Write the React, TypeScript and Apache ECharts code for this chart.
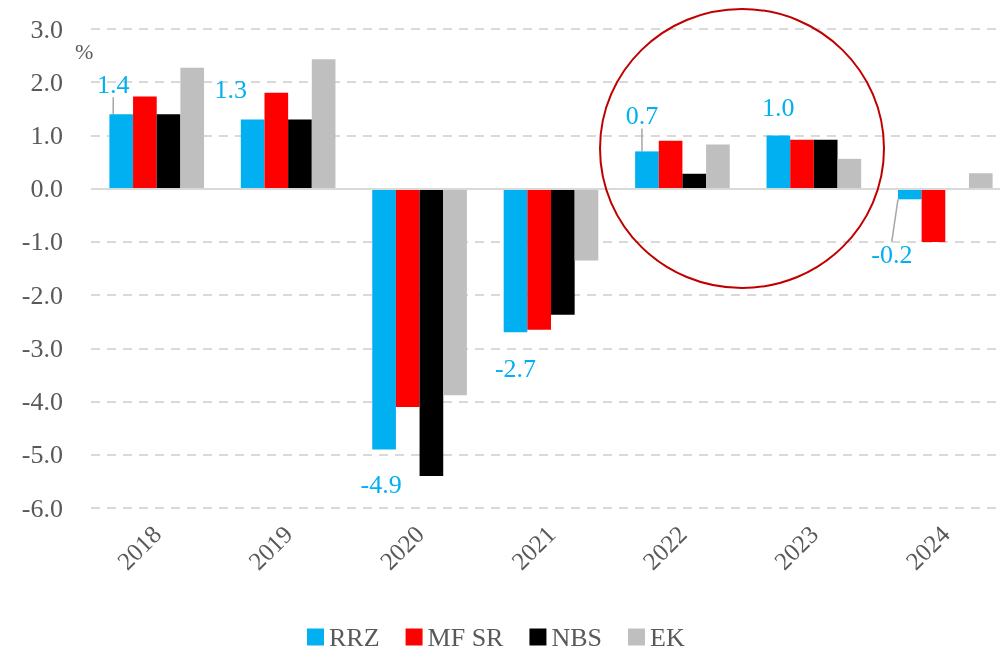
import React, { useEffect, useRef } from "react";
import * as echarts from "echarts";

const categories = ["2018", "2019", "2020", "2021", "2022", "2023", "2024"];
const seriesNames = ["RRZ", "MF SR", "NBS", "EK"];
const rrz = [1.4, 1.3, -4.9, -2.7, 0.7, 1.0, -0.2];
const mfsr = [1.73, 1.8, -4.1, -2.65, 0.9, 0.92, -1.0];
const nbs = [1.4, 1.3, -5.4, -2.37, 0.28, 0.92, null];
const ek = [2.27, 2.43, -3.88, -1.35, 0.83, 0.56, 0.29];
const yTicks = { min: -6, max: 3, interval: 1 };

const colors = ["#00B0F0", "#FF0000", "#000000", "#BFBFBF"];
const FONT = "'Liberation Serif', serif";
const GREY_TEXT = "#595959";

// label moves relative to default position; leader marks which get a guide line
const labelMoves: [number, number][] = [
  [-8, -12],
  [-22, -12],
  [-3, 17],
  [0, 18],
  [-5, -18],
  [0, -10],
  [-18, 37],
];
const leader = [true, false, false, false, true, false, true];

export default function App() {
  const ref = useRef<HTMLDivElement>(null);
  useEffect(() => {
    if (!ref.current) return;
    const chart = echarts.init(ref.current, null, { renderer: "svg" });
    const all = [rrz, mfsr, nbs, ek];
    const series = all.map((vals, si) => ({
      name: seriesNames[si],
      type: "bar",
      barGap: "0%",
      barCategoryGap: "28%",
      itemStyle: { color: colors[si] },
      data: vals.map((v, i) => {
        if (si !== 0) return v;
        return {
          value: v,
          label: {
            show: true,
            position: (v as number) >= 0 ? "top" : "bottom",
          },
          labelLine: { show: leader[i] },
        };
      }),
      label: {
        show: si === 0,
        color: "#00B0F0",
        fontFamily: FONT,
        fontSize: 26,
        formatter: (p: any) => Number(p.value).toFixed(1),
      },
      labelLine:
        si === 0
          ? { show: false, lineStyle: { color: "#A6A6A6", width: 1.5 } }
          : undefined,
      labelLayout:
        si === 0
          ? (p: any) => {
              const m = labelMoves[p.dataIndex];
              return m ? { dx: m[0], dy: m[1] } : {};
            }
          : undefined,
      markLine:
        si === 0
          ? {
              silent: true,
              symbol: "none",
              label: { show: false },
              lineStyle: { color: "#D9D9D9", width: 2, type: "solid" },
              data: [{ yAxis: 0 }],
            }
          : undefined,
      z: 2,
    }));

    chart.setOption({
      animation: false,
      textStyle: { fontFamily: FONT },
      grid: {
        left: 91,
        top: 29,
        width: 920,
        height: 479,
        outerBoundsMode: "none",
      },
      legend: {
        data: seriesNames,
        left: 302,
        top: 619,
        icon: "rect",
        itemWidth: 17,
        itemHeight: 17,
        itemGap: 26,
        textStyle: { color: GREY_TEXT, fontSize: 26, fontFamily: FONT },
      },
      xAxis: {
        type: "category",
        data: categories,
        axisLine: { show: false },
        axisTick: { show: false },
        axisLabel: {
          rotate: 45,
          margin: 22,
          color: GREY_TEXT,
          fontSize: 25,
          fontFamily: FONT,
        },
      },
      yAxis: {
        type: "value",
        min: yTicks.min,
        max: yTicks.max,
        interval: yTicks.interval,
        axisLine: { show: false },
        axisTick: { show: false },
        axisLabel: {
          margin: 28,
          color: GREY_TEXT,
          fontSize: 26,
          fontFamily: FONT,
          formatter: (v: number) => v.toFixed(1),
        },
        splitLine: {
          lineStyle: { color: "#D9D9D9", width: 2, type: [9, 7] },
        },
      },
      graphic: [
        {
          type: "text",
          left: 75,
          top: 40,
          style: { text: "%", fill: GREY_TEXT, font: `22px ${FONT}` },
        },
        {
          type: "ellipse",
          shape: { cx: 742, cy: 148.5, rx: 142, ry: 139.5 },
          style: { fill: "none", stroke: "#C00000", lineWidth: 2 },
          z: 10,
        },
      ],
      series,
    });
    return () => chart.dispose();
  }, []);
  return (
    <div
      ref={ref}
      style={{ position: "fixed", left: 0, top: 0, width: 1000, height: 653 }}
    />
  );
}
